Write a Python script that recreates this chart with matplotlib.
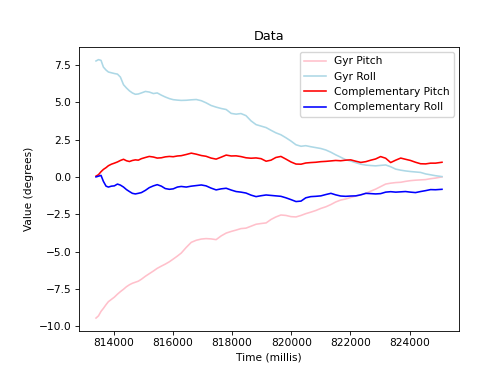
import matplotlib
matplotlib.use("Agg")
import matplotlib.pyplot as plt

time_ms = [813400, 813485, 813570, 813650, 813740, 813820, 813920, 814020, 814125, 814225,
           814330, 814430, 814530, 814630, 814730, 814830, 814935, 815070, 815200, 815340,
           815470, 815610, 815740, 815880, 816010, 816150, 816280, 816450, 816620, 816790,
           816960, 817120, 817290, 817460, 817630, 817800, 817970, 818135, 818300, 818470,
           818640, 818810, 818980, 819150, 819315, 819480, 819650, 819820, 819990, 820160,
           820330, 820490, 820660, 820830, 821000, 821170, 821340, 821500, 821670, 821840,
           822010, 822180, 822350, 822520, 822690, 822850, 823020, 823190, 823360, 823530,
           823700, 823860, 824030, 824200, 824370, 824540, 824710, 824875, 825095]

gyr_pitch = [-9.45, -9.30, -9.00, -8.80, -8.55, -8.35, -8.20, -8.05, -7.85, -7.68,
             -7.52, -7.35, -7.22, -7.12, -7.05, -6.98, -6.85, -6.65, -6.48, -6.30,
             -6.12, -5.97, -5.84, -5.68, -5.50, -5.30, -5.10, -4.72, -4.38, -4.24,
             -4.16, -4.13, -4.15, -4.20, -3.95, -3.76, -3.65, -3.56, -3.46, -3.43,
             -3.30, -3.17, -3.12, -3.08, -2.85, -2.68, -2.55, -2.58, -2.66, -2.68,
             -2.58, -2.46, -2.36, -2.25, -2.11, -2.00, -1.85, -1.68, -1.55, -1.48,
             -1.38, -1.28, -1.20, -1.10, -0.95, -0.82, -0.65, -0.48, -0.42, -0.38,
             -0.36, -0.30, -0.25, -0.22, -0.20, -0.18, -0.12, -0.08, 0.00]

gyr_roll = [7.76, 7.85, 7.80, 7.35, 7.15, 7.02, 6.97, 6.92, 6.88, 6.68,
            6.17, 5.95, 5.76, 5.62, 5.53, 5.55, 5.62, 5.72, 5.68, 5.58,
            5.62, 5.47, 5.35, 5.24, 5.17, 5.14, 5.12, 5.13, 5.16, 5.18,
            5.10, 4.96, 4.78, 4.67, 4.58, 4.51, 4.25, 4.20, 4.24, 4.10,
            3.75, 3.50, 3.40, 3.30, 3.12, 2.95, 2.82, 2.62, 2.40, 2.15,
            2.05, 2.09, 2.02, 1.96, 1.90, 1.80, 1.65, 1.48, 1.32, 1.15,
            1.06, 0.95, 0.85, 0.79, 0.76, 0.74, 0.77, 0.80, 0.68, 0.52,
            0.45, 0.40, 0.36, 0.33, 0.30, 0.20, 0.14, 0.08, 0.02]

comp_pitch = [0.05, 0.15, 0.35, 0.50, 0.62, 0.75, 0.85, 0.92, 1.00, 1.10,
              1.18, 1.08, 1.03, 1.10, 1.14, 1.12, 1.22, 1.30, 1.37, 1.33,
              1.26, 1.28, 1.34, 1.37, 1.35, 1.40, 1.42, 1.50, 1.59, 1.52,
              1.43, 1.38, 1.26, 1.19, 1.32, 1.46, 1.40, 1.41, 1.36, 1.28,
              1.25, 1.27, 1.22, 1.05, 1.12, 1.30, 1.37, 1.19, 1.00, 0.86,
              0.85, 0.93, 0.96, 0.98, 1.02, 1.04, 1.07, 1.10, 1.08, 1.12,
              1.14, 1.05, 0.97, 1.02, 1.12, 1.20, 1.36, 1.25, 0.96, 1.12,
              1.26, 1.18, 1.10, 0.98, 0.88, 0.87, 0.92, 0.92, 0.98]

comp_roll = [0.00, 0.05, 0.10, -0.30, -0.62, -0.68, -0.62, -0.60, -0.48, -0.55,
             -0.68, -0.85, -0.98, -1.10, -1.14, -1.10, -1.05, -0.90, -0.72, -0.60,
             -0.52, -0.62, -0.78, -0.83, -0.80, -0.68, -0.64, -0.68, -0.62, -0.58,
             -0.54, -0.60, -0.75, -0.87, -0.80, -0.76, -0.88, -0.98, -1.02, -1.08,
             -1.22, -1.32, -1.26, -1.21, -1.24, -1.27, -1.30, -1.40, -1.52, -1.65,
             -1.62, -1.40, -1.32, -1.30, -1.27, -1.18, -1.10, -1.20, -1.28, -1.30,
             -1.28, -1.27, -1.20, -1.10, -1.12, -1.14, -1.12, -1.02, -0.99, -1.02,
             -1.00, -0.98, -1.02, -1.05, -0.98, -0.92, -0.85, -0.86, -0.83]

s = 0.768
plt.rcParams.update({
    "font.size": 10 * s,
    "axes.titlesize": 12 * s,
    "axes.linewidth": 0.8 * s,
    "xtick.major.size": 3.5 * s,
    "ytick.major.size": 3.5 * s,
    "xtick.major.width": 0.8 * s,
    "ytick.major.width": 0.8 * s,
    "xtick.major.pad": 3.5 * s,
    "ytick.major.pad": 3.5 * s,
    "axes.labelpad": 4 * s,
    "axes.titlepad": 6 * s,
    "lines.linewidth": 1.5 * s,
    "legend.framealpha": 0.8,
})

fig = plt.figure(figsize=(4.81, 3.74), dpi=100)
ax = fig.add_axes([78.7 / 481, 1 - 331 / 374, (459.3 - 78.7) / 481, (331 - 46.7) / 374])

ax.plot(time_ms, gyr_pitch, color="pink", label="Gyr Pitch")
ax.plot(time_ms, gyr_roll, color="lightblue", label="Gyr Roll")
ax.plot(time_ms, comp_pitch, color="red", label="Complementary Pitch")
ax.plot(time_ms, comp_roll, color="blue", label="Complementary Roll")

ax.set_title("Data")
ax.set_xlabel("Time (millis)")
ax.set_ylabel("Value (degrees)")
ax.ticklabel_format(axis="x", style="plain", useOffset=False)
ax.legend(loc="upper right")

fig.savefig("out.png", dpi=100)
